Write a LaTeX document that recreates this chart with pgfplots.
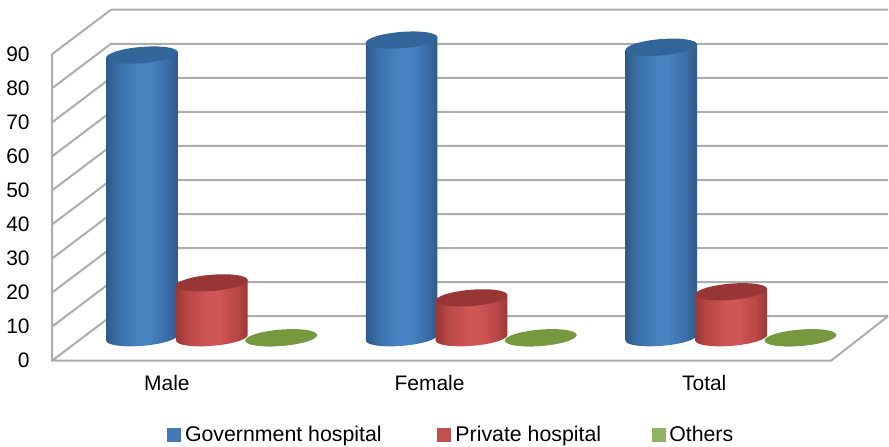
\documentclass[border=0pt]{standalone}
\usepackage{fontspec}
\setmainfont{Liberation Sans}
\usepackage{pgfplots}
\pgfplotsset{compat=1.18}

\definecolor{gridgray}{HTML}{ADADAD}
\definecolor{blueedge}{HTML}{2F5A88}
\definecolor{bluemid}{HTML}{3A6EA8}
\definecolor{bluelight}{HTML}{4783C0}
\definecolor{bluetop}{HTML}{32659A}
\definecolor{rededge}{HTML}{9A3836}
\definecolor{redmid}{HTML}{B84745}
\definecolor{redlight}{HTML}{CF5654}
\definecolor{redtop}{HTML}{983635}
\definecolor{greenfill}{HTML}{76993F}
\definecolor{keyblue}{HTML}{4379B5}
\definecolor{keyred}{HTML}{C0504D}
\definecolor{keygreen}{HTML}{8FB360}

% Side shadings of the cylinders: dark rims, light centre
\pgfdeclarehorizontalshading{cylblue}{100bp}{color(0bp)=(blueedge); color(25bp)=(blueedge); color(33bp)=(bluemid); color(47bp)=(bluelight); color(55bp)=(bluelight); color(67bp)=(bluemid); color(75bp)=(blueedge); color(100bp)=(blueedge)}
\pgfdeclarehorizontalshading{cylred}{100bp}{color(0bp)=(rededge); color(25bp)=(rededge); color(33bp)=(redmid); color(47bp)=(redlight); color(55bp)=(redlight); color(67bp)=(redmid); color(75bp)=(rededge); color(100bp)=(rededge)}
\pgfdeclarehorizontalshading{cylgreen}{100bp}{color(0bp)=(greenfill); color(100bp)=(greenfill)}

% One cylinder, origin at the centre of its tilted top ellipse; the side runs
% down to the lower half of the same ellipse, \h below. \barvalue comes from the plot.
\newcommand{\cylinder}[2]{%
  \pgfmathsetmacro\h{\barvalue*2.5575}%
  \path[draw=none, shading=#1]
    (-26.9pt,-2.2pt) -- (-26.9pt,{-2.2pt-\h pt})
    .. controls (-26.62pt,{-5.56pt-\h pt}) and (-14.36pt,{-7.30pt-\h pt}) .. (0.5pt,{-6.08pt-\h pt})
    .. controls (15.36pt,{-4.87pt-\h pt}) and (27.18pt,{-1.16pt-\h pt}) .. (26.9pt,{2.2pt-\h pt})
    -- (26.9pt,2.2pt) -- cycle;
  \path[draw=none, fill=#2]
    (-26.9pt,-2.2pt)
    .. controls (-26.62pt,-5.56pt) and (-14.36pt,-7.30pt) .. (0.5pt,-6.08pt)
    .. controls (15.36pt,-4.87pt) and (27.18pt,-1.16pt) .. (26.9pt,2.2pt)
    .. controls (26.62pt,5.56pt) and (14.36pt,7.30pt) .. (-0.5pt,6.08pt)
    .. controls (-15.36pt,4.87pt) and (-27.18pt,1.16pt) .. (-26.9pt,-2.2pt) -- cycle;
}
\pgfdeclareplotmark{cyl gov}{\cylinder{cylblue}{bluetop}}
\pgfdeclareplotmark{cyl priv}{\cylinder{cylred}{redtop}}
\pgfdeclareplotmark{cyl other}{\cylinder{cylgreen}{greenfill}}

\pgfplotsset{
  canvas/.style={width=666.75pt, height=335.25pt, scale only axis, clip=false},
  cylinders/.style={only marks, scatter, point meta=y, point meta min=0, point meta max=100,
    scatter/use mapped color={draw=none, fill=none},
    visualization depends on={rawy \as \barvalue}},
  key/.style={legend image code/.code={\fill[#1] (0pt,-4.9pt) rectangle (9.75pt,4.9pt);}},
}

\begin{document}
\begin{tikzpicture}
% Walls and floor with the value scale, in the plane of the front edge
\begin{axis}[canvas,
    xmin=0, xmax=889, ymin=-25.22, ymax=105.87,
    axis line style={draw=none}, major tick length=0pt,
    ytick={0,10,...,90}, xtick={167,430,705}, xticklabels={Male,Female,Total},
    tick label style={font=\fontsize{15.75}{18}\selectfont},
    /pgf/number format/assume math mode=true,
    yticklabel style={anchor=east, xshift=25.7pt},
    xticklabel style={anchor=center, yshift=48pt},
  ]
  \addplot[gridgray, line width=1.5pt, forget plot] coordinates {
    (52,90) (111,103.05) (889,103.05)

    (52,80) (111,93.05) (889,93.05)

    (52,70) (111,83.05) (889,83.05)

    (52,60) (111,73.05) (889,73.05)

    (52,50) (111,63.05) (889,63.05)

    (52,40) (111,53.05) (889,53.05)

    (52,30) (111,43.05) (889,43.05)

    (52,20) (111,33.05) (889,33.05)

    (52,10) (111,23.05) (889,23.05)

    (52,0) (111,13.05) (889,13.05)

    (52,90) (52,0) (832,0) (889,13.05)
  };
\end{axis}
% Cylinders stand on the middle of the floor, so their zero lies higher
\begin{axis}[canvas,
    axis lines=none,
    xmin=-0.8154, xmax=2.6038, ymin=-31.96, ymax=99.12,
    legend columns=-1,
    legend style={at={(rel axis cs:0.1875,0.0270)}, anchor=west, draw=none, fill=none,
      inner sep=0pt, font=\fontsize{16}{18}\selectfont,
      /tikz/column 1/.style={column sep=1.5pt},
      /tikz/column 2/.style={column sep=39.8pt},
      /tikz/column 3/.style={column sep=1.5pt},
      /tikz/column 4/.style={column sep=36pt},
      /tikz/column 5/.style={column sep=1.0pt}},
  ]
  \addplot[cylinders, mark=cyl gov, key=keyblue, xshift=-52.5pt] coordinates {
    (0,83.0) (1,87.4) (2,85.3)
  };
  \addlegendentry{Government hospital}
  \addplot[cylinders, mark=cyl priv, key=keyred] coordinates {
    (0,16.1) (1,11.7) (2,13.5)
  };
  \addlegendentry{Private hospital}
  \addplot[cylinders, mark=cyl other, key=keygreen, xshift=52pt] coordinates {
    (0,0) (1,0) (2,0)
  };
  \addlegendentry{Others}
\end{axis}
\end{tikzpicture}
\end{document}
